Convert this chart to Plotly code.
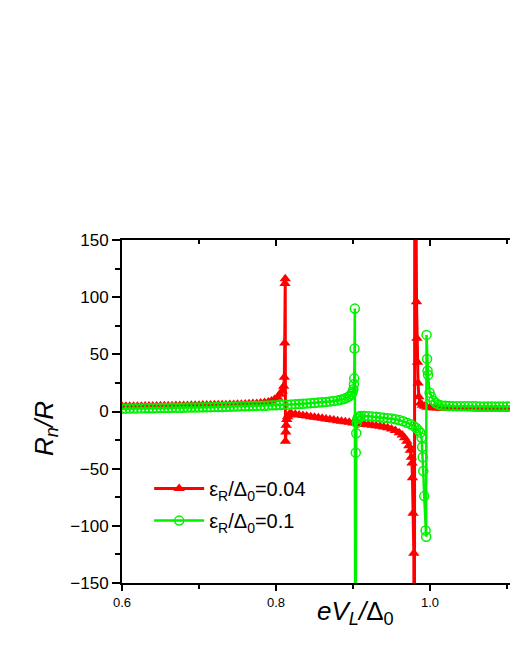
import plotly.graph_objects as go

# ── Data ──────────────────────────────────────────────────────────────────────
RED_X = [
    0.600, 0.605, 0.610, 0.615, 0.620, 0.625, 0.630, 0.635, 0.640, 0.645,
    0.650, 0.655, 0.660, 0.665, 0.670, 0.675, 0.680, 0.685, 0.690, 0.695,
    0.700, 0.705, 0.710, 0.715, 0.720, 0.725, 0.730, 0.735, 0.740, 0.745,
    0.750, 0.755, 0.760, 0.765, 0.770, 0.775, 0.780, 0.785, 0.790, 0.794,
    0.798, 0.802, 0.805, 0.808, 0.8100, 0.8108, 0.8113, 0.8117, 0.8120, 0.8123,
    0.8127, 0.8132, 0.8140, 0.8150, 0.8165, 0.8180, 0.820, 0.825, 0.830, 0.835,
    0.840, 0.845, 0.850, 0.855, 0.860, 0.865, 0.870, 0.875, 0.880, 0.885,
    0.890, 0.895, 0.900, 0.905, 0.910, 0.915, 0.920, 0.925, 0.930, 0.935,
    0.940, 0.945, 0.950, 0.955, 0.960, 0.964, 0.967, 0.970, 0.9725, 0.9745,
    0.9758, 0.9766, 0.9772, 0.9780, 0.9790, 0.9797, 0.9803, 0.9825, 0.9830, 0.9838,
    0.9845, 0.9855, 0.9875, 0.990, 0.993, 0.996, 1.000, 1.005, 1.010, 1.015,
    1.020, 1.025, 1.030, 1.035, 1.040, 1.045, 1.050, 1.055, 1.060, 1.065,
    1.070, 1.075, 1.080, 1.085, 1.090, 1.095, 1.100, 1.105, 1.110,
]
RED_Y = [
    4.5, 4.5, 4.6, 4.6, 4.7, 4.7, 4.8, 4.8, 4.9, 4.9,
    5.0, 5.0, 5.1, 5.1, 5.2, 5.2, 5.3, 5.3, 5.4, 5.4,
    5.5, 5.6, 5.6, 5.7, 5.8, 5.8, 5.9, 6.0, 6.1, 6.2,
    6.3, 6.4, 6.5, 6.7, 6.9, 7.1, 7.4, 7.8, 8.3, 9.2,
    10.5, 12.5, 15, 18, 22, 30, 60, 112, 116, -26,
    -18, -12, -7, -4.5, -3, -2.2, -2, -2.5, -3, -3.5,
    -4, -4.5, -5, -5.5, -6, -6.5, -7, -7.5, -8, -8.5,
    -9, -9.5, -10, -10.5, -11, -11.3, -11.6, -12, -12.4, -12.9,
    -13.5, -14.3, -15.3, -16.6, -18.5, -20.5, -23, -26, -30, -34,
    -40, -45, -58, -89, -124, -400, 400, 96, 64, 43,
    25, 13, 7.4, 5.5, 4.5, 3.8, 3.4, 3.1, 3.0, 2.9,
    2.8, 2.8, 2.7, 2.7, 2.6, 2.6, 2.6, 2.5, 2.5, 2.5,
    2.5, 2.4, 2.4, 2.4, 2.4, 2.4, 2.3, 2.3, 2.3,
]

GREEN_X = [
    0.600, 0.605, 0.610, 0.615, 0.620, 0.625, 0.630, 0.635, 0.640, 0.645,
    0.650, 0.655, 0.660, 0.665, 0.670, 0.675, 0.680, 0.685, 0.690, 0.695,
    0.700, 0.705, 0.710, 0.715, 0.720, 0.725, 0.730, 0.735, 0.740, 0.745,
    0.750, 0.755, 0.760, 0.765, 0.770, 0.775, 0.780, 0.785, 0.790, 0.795,
    0.800, 0.805, 0.810, 0.815, 0.820, 0.825, 0.830, 0.835, 0.840, 0.845,
    0.850, 0.855, 0.860, 0.865, 0.870, 0.875, 0.880, 0.884, 0.888, 0.891,
    0.894, 0.896, 0.898, 0.8995, 0.9005, 0.9012, 0.9016, 0.9020, 0.9024, 0.9030,
    0.9036, 0.9042, 0.9048, 0.9056, 0.9066, 0.908, 0.910, 0.915, 0.920, 0.925,
    0.930, 0.935, 0.940, 0.945, 0.950, 0.955, 0.960, 0.965, 0.970, 0.975,
    0.979, 0.982, 0.985, 0.9875, 0.9890, 0.9898, 0.9905, 0.9912, 0.9925, 0.9943,
    0.9950, 0.9955, 0.9962, 0.9968, 0.9975, 0.9995, 1.0015, 1.0045, 1.0075, 1.011,
    1.015, 1.020, 1.025, 1.030, 1.035, 1.040, 1.045, 1.050, 1.055, 1.060,
    1.065, 1.070, 1.075, 1.080, 1.085, 1.090, 1.095, 1.100, 1.105, 1.110,
]
GREEN_Y = [
    2.5, 2.5, 2.6, 2.6, 2.7, 2.7, 2.8, 2.8, 2.9, 2.9,
    3.0, 3.0, 3.1, 3.2, 3.2, 3.3, 3.3, 3.4, 3.5, 3.5,
    3.6, 3.7, 3.7, 3.8, 3.9, 4.0, 4.0, 4.1, 4.2, 4.3,
    4.4, 4.5, 4.6, 4.7, 4.8, 4.9, 5.0, 5.1, 5.2, 5.4,
    5.5, 5.7, 5.8, 6.0, 6.2, 6.4, 6.6, 6.8, 7.0, 7.3,
    7.5, 7.8, 8.1, 8.4, 8.8, 9.2, 9.7, 10.3, 11.0, 11.8,
    12.8, 13.8, 15.2, 17, 19.5, 24, 29, 55, 90, -400,
    -36, -19, -10, -6.5, -5, -4.3, -4, -3.9, -4.1, -4.4,
    -4.7, -5.0, -5.4, -5.8, -6.2, -6.8, -7.5, -8.5, -9.8, -11.2,
    -12.8, -14.5, -16.5, -18.5, -23, -31, -40, -52, -74, -104,
    -109.5, 67, 46, 35.7, 32, 16.5, 13, 9.5, 7.4, 6.0,
    5.3, 5.0, 4.8, 4.7, 4.6, 4.5, 4.5, 4.5, 4.5, 4.5,
    4.4, 4.4, 4.4, 4.4, 4.4, 4.4, 4.4, 4.4, 4.4, 4.4,
]

NAMES = ["ε<sub>R</sub>/Δ<sub>0</sub>=0.04", "ε<sub>R</sub>/Δ<sub>0</sub>=0.1"]

X_RANGE = [0.6, 1.1039]
Y_RANGE = [-150, 150]
X_TICKS = [0.6, 0.8, 1.0]
X_TICKTEXT = ["0.6", "0.8", "1.0"]
Y_TICKS = [-150, -100, -50, 0, 50, 100, 150]

# ── Style ─────────────────────────────────────────────────────────────────────
RED = "#FF0000"
GREEN = "#00F000"
FONT = "Arial, Liberation Sans, sans-serif"

fig = go.Figure()
fig.add_trace(go.Scatter(
    x=RED_X, y=RED_Y, mode="lines+markers", name=NAMES[0], legendgroup="a",
    line=dict(color=RED, width=3),
    marker=dict(symbol="triangle-up", size=10, color=RED, line=dict(width=0)),
))
fig.add_trace(go.Scatter(
    x=GREEN_X, y=GREEN_Y, mode="lines+markers", name=NAMES[1], legendgroup="b",
    line=dict(color=GREEN, width=2.5),
    marker=dict(symbol="circle-open", size=9, color=GREEN, line=dict(width=1.5)),
))
# empty trace just to anchor the top axis
fig.add_trace(go.Scatter(x=[], y=[], xaxis="x2", showlegend=False, hoverinfo="skip"))

fig.update_layout(
    width=510, height=660,
    margin=dict(l=122, r=0, t=240, b=77),
    paper_bgcolor="white", plot_bgcolor="white",
    font=dict(family=FONT, color="black"),
    showlegend=True,
    legend=dict(
        x=0.07, y=0.332, xanchor="left", yanchor="top",
        font=dict(size=20, family=FONT), bgcolor="rgba(0,0,0,0)",
        itemwidth=50, traceorder="grouped", tracegroupgap=3,
    ),
    xaxis=dict(
        range=X_RANGE, tickvals=X_TICKS, ticktext=X_TICKTEXT,
        ticks="outside", ticklen=6, tickwidth=2, tickcolor="black",
        minor=dict(dtick=0.1, ticks="outside", ticklen=4, tickwidth=2, tickcolor="black"),
        showline=True, linecolor="black", linewidth=2,
        showgrid=False, zeroline=False,
        tickfont=dict(size=13, family=FONT),
    ),
    xaxis2=dict(
        overlaying="x", side="top", matches="x", range=X_RANGE,
        tickvals=X_TICKS, showticklabels=False,
        ticks="inside", ticklen=6, tickwidth=2, tickcolor="black",
        minor=dict(dtick=0.1, ticks="inside", ticklen=4, tickwidth=2, tickcolor="black"),
        showline=True, linecolor="black", linewidth=2,
        showgrid=False, zeroline=False,
    ),
    yaxis=dict(
        range=Y_RANGE, tickvals=Y_TICKS,
        ticks="outside", ticklen=8, tickwidth=2, tickcolor="black",
        minor=dict(dtick=25, ticks="outside", ticklen=5, tickwidth=2, tickcolor="black"),
        showline=True, linecolor="black", linewidth=2,
        showgrid=False, zeroline=False,
        tickfont=dict(size=17, family=FONT),
    ),
    annotations=[
        dict(text="<i>R</i><sub><i>n</i></sub><i>/R</i>", xref="paper", yref="paper",
             x=-0.196, y=0.452, xanchor="center", yanchor="middle",
             textangle=-90, showarrow=False, font=dict(size=26, family=FONT)),
        dict(text="<i>eV</i><sub><i>L</i></sub><i>/</i>Δ<sub>0</sub>", xref="paper", yref="paper",
             x=0.603, y=-0.085, xanchor="center", yanchor="middle",
             showarrow=False, font=dict(size=26, family=FONT)),
    ],
)

fig.write_html(
    "out.html",
    config={"displayModeBar": False},
    post_script="document.body.style.margin='0';document.body.style.overflow='hidden';",
)
